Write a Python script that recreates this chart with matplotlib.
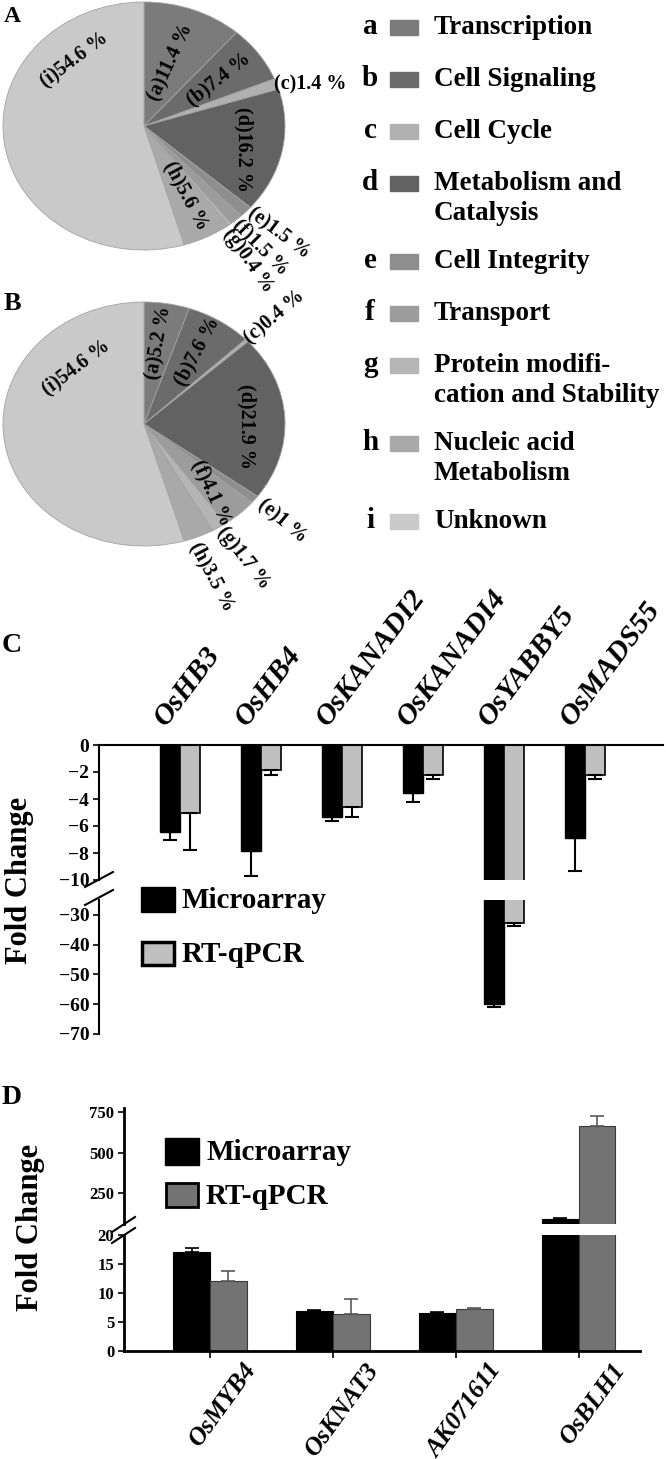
import numpy as np
import matplotlib
matplotlib.use('Agg')
import matplotlib.pyplot as plt
import matplotlib.transforms as mtransforms
from matplotlib.patches import Rectangle
from matplotlib.lines import Line2D

plt.rcParams['font.family'] = ['Liberation Serif', 'DejaVu Serif']
plt.rcParams['font.weight'] = 'bold'

# ---- data ----
cat_keys = ['a', 'b', 'c', 'd', 'e', 'f', 'g', 'h', 'i']
cat_names = ['Transcription', 'Cell Signaling', 'Cell Cycle', 'Metabolism and\nCatalysis',
             'Cell Integrity', 'Transport', 'Protein modifi-\ncation and Stability',
             'Nucleic acid\nMetabolism', 'Unknown']
pie_a = [11.4, 7.4, 1.4, 16.2, 1.5, 1.5, 0.4, 5.6, 54.6]
pie_b = [5.2, 7.6, 0.4, 21.9, 1, 4.1, 1.7, 3.5, 54.6]

genes_c = ['OsHB3', 'OsHB4', 'OsKANADI2', 'OsKANADI4', 'OsYABBY5', 'OsMADS55']
micro_c = [-6.45, -7.85, -5.35, -3.55, -60.0, -6.9]
micro_c_err = [0.6, 1.85, 0.25, 0.65, 0.8, 2.4]
rt_c = [-5.0, -1.85, -4.6, -2.2, -32.8, -2.2]
rt_c_err = [2.75, 0.4, 0.7, 0.3, 1.0, 0.3]

genes_d = ['OsMYB4', 'OsKNAT3', 'AK071611', 'OsBLH1']
micro_d = [17.0, 6.95, 6.6, 90]
micro_d_err = [0.8, 0.15, 0.15, 5]
rt_d = [12.1, 6.3, 7.2, 665]
rt_d_err = [1.7, 2.7, 0.25, 58]

# ---- styles ----
pie_colors = ['#7b7b7b', '#6b6b6b', '#b0b0b0', '#626262', '#8e8e8e',
              '#9c9c9c', '#b5b5b5', '#a9a9a9', '#c9c9c9']
# (radius, angle or None=mid angle, rotation, ha)
lab_a = [(0.55, None, 65, 'center'), (0.65, None, 38, 'center'), (0.98, None, 0, 'left'),
         (0.73, -15, -90, 'center'), (1.02, -42.6, -37, 'left'), (1.01, -50, -45, 'left'),
         (1.03, -55, -55, 'left'), (0.64, -62, -62, 'center'), (0.73, 133, 37, 'center')]
lab_b = [(0.67, None, 80, 'center'), (0.70, None, 62, 'center'), (1.0, None, 40, 'left'),
         (0.73, -1.6, -90, 'center'), (1.05, None, -40, 'left'), (0.74, -50, -65, 'center'),
         (1.02, None, -52, 'left'), (1.04, -70, -62, 'left'), (0.67, 136, 37, 'center')]

W, H = 666, 1459
fig = plt.figure(figsize=(W / 100, H / 100), dpi=100)


def box(x0, y0, x1, y1):
    return [x0 / W, 1 - y1 / H, (x1 - x0) / W, (y1 - y0) / H]


def fx(x):
    return x / W


def fy(y):
    return 1 - y / H


def draw_pie(vals, labs, px_box):
    ax = fig.add_axes(box(*px_box))
    ax.pie(vals, colors=pie_colors, startangle=90, counterclock=False,
           wedgeprops=dict(edgecolor='#a2a2a2', linewidth=0.6))
    ax.set_aspect('auto')
    ax.set_xlim(-1, 1)
    ax.set_ylim(-1, 1)
    v = np.array(vals, dtype=float)
    mids = 90 - (np.cumsum(v) - v / 2) * 3.6
    for k, val, mid, (r, ang, rot, ha) in zip(cat_keys, vals, mids, labs):
        a = np.radians(mid if ang is None else ang)
        ax.text(r * np.cos(a), r * np.sin(a), '(%s)%g %%' % (k, val), fontsize=14.5,
                rotation=rot, rotation_mode='anchor', ha=ha, va='center', clip_on=False)
    return ax


draw_pie(pie_a, lab_a, (3, 2, 285, 250))
draw_pie(pie_b, lab_b, (3, 302, 285, 546))

fig.text(fx(12), fy(16), 'A', fontsize=17, ha='center', va='center')
fig.text(fx(12), fy(303), 'B', fontsize=19, ha='center', va='center')
fig.text(fx(12), fy(645), 'C', fontsize=20, ha='center', va='center')
fig.text(fx(12), fy(1097), 'D', fontsize=20, ha='center', va='center')

# category legend
y = 27
for k, name, col in zip(cat_keys, cat_names, pie_colors):
    lines = name.split('\n')
    fig.text(fx(370), fy(y), k, fontsize=21, ha='center', va='center')
    fig.add_artist(Rectangle((fx(390), fy(y + 7.5)), 28 / W, 15 / H, color=col,
                             transform=fig.transFigure))
    for j, ln in enumerate(lines):
        fig.text(fx(434), fy(y + 31 * j), ln, fontsize=19.5, ha='left', va='center')
    y += 52 if len(lines) == 1 else 78

# ---- panel C ----
xc = np.arange(len(genes_c))
bw = 0.25
axs_c = [fig.add_axes(box(99, 745, 663, 880)), fig.add_axes(box(99, 900, 663, 1034))]
for ax in axs_c:
    ax.bar(xc - bw / 2, micro_c, bw, color='black', edgecolor='black', linewidth=1)
    ax.bar(xc + bw / 2, rt_c, bw, color='#c0c0c0', edgecolor='black', linewidth=1.2)
    ax.errorbar(xc - bw / 2, micro_c, yerr=[micro_c_err, [0] * len(xc)], fmt='none',
                ecolor='black', elinewidth=1.5, capsize=5, capthick=1.5)
    ax.errorbar(xc + bw / 2, rt_c, yerr=[rt_c_err, [0] * len(xc)], fmt='none',
                ecolor='black', elinewidth=1.5, capsize=5, capthick=1.5)
    ax.set_xlim(-1.0, 5.96)
    ax.set_xticks([])
    ax.set_facecolor('none')
    for s in ['right', 'bottom', 'top']:
        ax.spines[s].set_visible(False)
    ax.spines['left'].set_linewidth(1.5)
    ax.tick_params(axis='y', direction='out', length=4, width=1.2, labelsize=14, pad=3)
axs_c[0].set_ylim(-10, 0)
axs_c[0].set_yticks([0, -2, -4, -6, -8, -10])
axs_c[0].spines['top'].set_visible(True)
axs_c[0].spines['top'].set_linewidth(1.5)
axs_c[1].set_ylim(-70, -25)
axs_c[1].set_yticks([-30, -40, -50, -60, -70])

trc = mtransforms.blended_transform_factory(axs_c[0].transData, axs_c[0].transAxes)
for i, g in enumerate(genes_c):
    axs_c[0].text(i - 0.17, 1.13, g, transform=trc, fontsize=21.5, fontstyle='italic',
                  rotation=53, rotation_mode='anchor', ha='left', va='baseline')

for y0, y1 in [(887, 872), (905, 890)]:
    fig.add_artist(Line2D([fx(85), fx(113)], [fy(y0), fy(y1)], color='black', lw=1.5,
                          transform=fig.transFigure))
fig.text(fx(20), fy(880), 'Fold Change', fontsize=22, rotation=90, ha='center', va='center')

fig.add_artist(Rectangle((fx(141), fy(912)), 34 / W, 25 / H, facecolor='black',
                         edgecolor='black', transform=fig.transFigure))
fig.add_artist(Rectangle((fx(142), fy(965)), 32 / W, 23 / H, facecolor='#c0c0c0',
                         edgecolor='black', lw=2.5, transform=fig.transFigure))
fig.text(fx(182), fy(900), 'Microarray', fontsize=21, ha='left', va='center')
fig.text(fx(182), fy(955), 'RT-qPCR', fontsize=21, ha='left', va='center')

# ---- panel D ----
xd = np.arange(len(genes_d))
bd = 0.30
axs_d = [fig.add_axes(box(124, 1108, 640, 1224)), fig.add_axes(box(124, 1235, 640, 1351))]
for ax in axs_d:
    ax.bar(xd - bd / 2, micro_d, bd, color='black', edgecolor='black', linewidth=0.8)
    ax.bar(xd + bd / 2, rt_d, bd, color='#737373', edgecolor='#3a3a3a', linewidth=0.8)
    ax.errorbar(xd - bd / 2, micro_d, yerr=[[0] * len(xd), micro_d_err], fmt='none',
                ecolor='black', elinewidth=1.2, capsize=5, capthick=1.2)
    ax.errorbar(xd + bd / 2, rt_d, yerr=[[0] * len(xd), rt_d_err], fmt='none',
                ecolor='#5a5a5a', elinewidth=1.2, capsize=5, capthick=1.2)
    ax.set_xlim(-0.70, 3.50)
    ax.set_facecolor('none')
    for s in ['right', 'top', 'bottom']:
        ax.spines[s].set_visible(False)
    ax.spines['left'].set_linewidth(2)
    ax.tick_params(axis='y', direction='out', length=4, width=1.2, labelsize=12, pad=3)
axs_d[0].set_ylim(59, 775)
axs_d[0].set_yticks([250, 500, 750])
axs_d[0].set_xticks([])
axs_d[1].set_ylim(0, 20)
axs_d[1].set_yticks([0, 5, 10, 15, 20])
axs_d[1].spines['bottom'].set_visible(True)
axs_d[1].spines['bottom'].set_linewidth(2)
axs_d[1].set_xticks(xd)
axs_d[1].tick_params(axis='x', direction='out', length=5, width=1.2, labelbottom=False)

trd = mtransforms.blended_transform_factory(axs_d[1].transData, axs_d[1].transAxes)
for i, g in enumerate(genes_d):
    axs_d[1].text(i + 0.26, -0.07, g, transform=trd, fontsize=18.5, fontstyle='italic',
                  rotation=54, rotation_mode='anchor', ha='right', va='top')

for y0, y1 in [(1232, 1217), (1243, 1228)]:
    fig.add_artist(Line2D([fx(112), fx(135)], [fy(y0), fy(y1)], color='black', lw=1.5,
                          transform=fig.transFigure))
fig.text(fx(31), fy(1227), 'Fold Change', fontsize=22, rotation=90, ha='center', va='center')

fig.add_artist(Rectangle((fx(165), fy(1165)), 34 / W, 27 / H, facecolor='black',
                         edgecolor='black', transform=fig.transFigure))
fig.add_artist(Rectangle((fx(166), fy(1207)), 32 / W, 24 / H, facecolor='#737373',
                         edgecolor='black', lw=2, transform=fig.transFigure))
fig.text(fx(206), fy(1152), 'Microarray', fontsize=21, ha='left', va='center')
fig.text(fx(206), fy(1196), 'RT-qPCR', fontsize=21, ha='left', va='center')

fig.savefig('out.png', dpi=100)
